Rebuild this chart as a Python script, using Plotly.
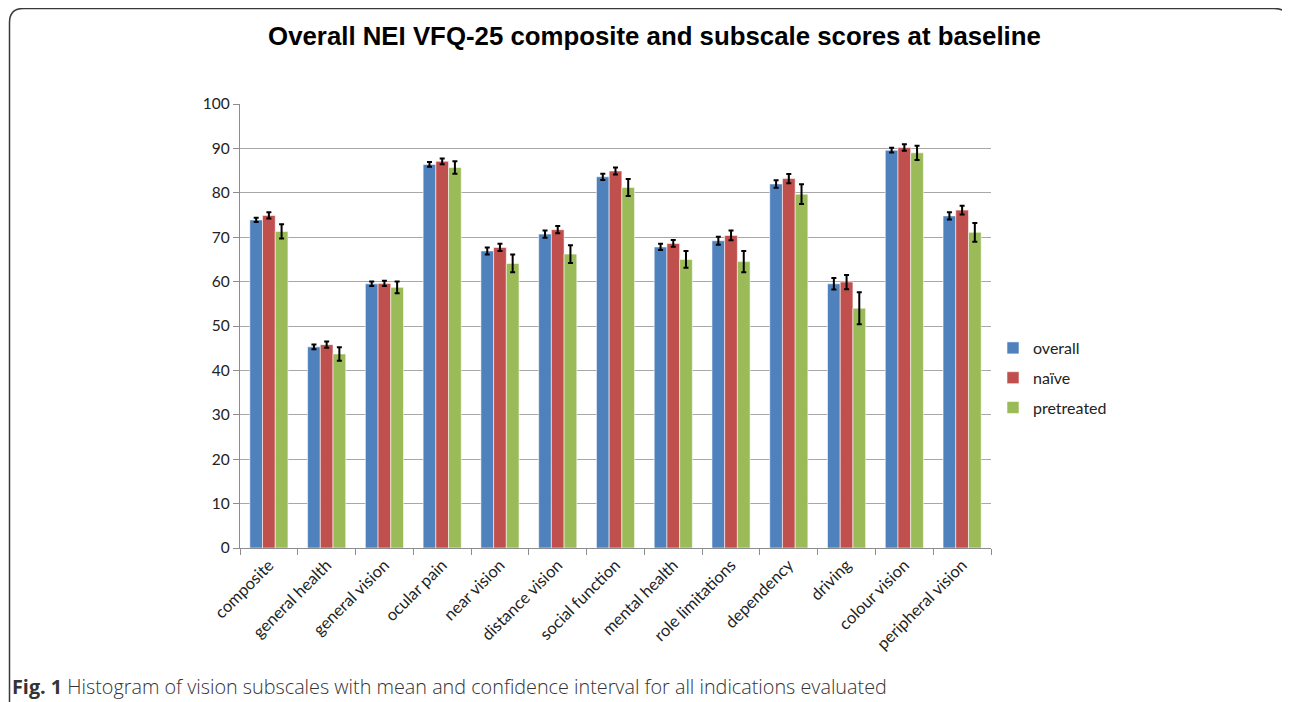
import plotly.graph_objects as go

categories = ["composite", "general health", "general vision", "ocular pain", "near vision",
              "distance vision", "social function", "mental health", "role limitations",
              "dependency", "driving", "colour vision", "peripheral vision"]

overall = [73.9, 45.3, 59.5, 86.4, 66.9, 70.7, 83.6, 67.8, 69.2, 82.0, 59.5, 89.6, 74.8]
overall_ci = [0.5, 0.55, 0.5, 0.55, 0.8, 0.8, 0.7, 0.7, 0.9, 0.85, 1.3, 0.55, 0.8]

naive = [74.9, 45.8, 59.6, 87.1, 67.7, 71.7, 84.9, 68.6, 70.4, 83.2, 59.9, 90.2, 76.1]
naive_ci = [0.7, 0.7, 0.6, 0.65, 0.8, 0.8, 0.8, 0.75, 1.1, 1.05, 1.6, 0.75, 1.0]

pretreated = [71.3, 43.7, 58.7, 85.7, 64.1, 66.2, 81.2, 65.0, 64.5, 79.7, 54.0, 89.0, 71.1]
pretreated_ci = [1.6, 1.5, 1.3, 1.4, 2.0, 2.0, 1.9, 1.9, 2.4, 2.2, 3.6, 1.6, 2.1]

series_names = ["overall", "naïve", "pretreated"]
colors = ["#4F81BD", "#C0504D", "#9BBB59"]

fig = go.Figure()
for name, vals, ci, col in zip(series_names, [overall, naive, pretreated],
                               [overall_ci, naive_ci, pretreated_ci], colors):
    fig.add_trace(go.Bar(
        x=categories, y=vals, name=name, legendgroup=name,
        marker=dict(color=col, line=dict(color="rgba(255,255,255,0.7)", width=0.8)),
        error_y=dict(type="data", array=ci, visible=True, color="black",
                     thickness=2, width=2.5),
    ))

OFF = 8  # page body margin
W, H = 1290 - OFF, 702 - OFF
L, R, T, B = 240 - OFF, 991 - OFF, 104 - OFF, 548 - OFF
pw, ph = R - L, B - T


def px(x):
    return (x - OFF - L) / pw


def py(y):
    return (B - (y - OFF)) / ph


# rounded frame (page pixel coordinates)
x0, y0, x1, y1 = 9.5, 8.5, 1288.5, 712
r = 14
path = (f"M {px(x0)},{py(y1)} L {px(x0)},{py(y0 + r)} "
        f"Q {px(x0)},{py(y0)} {px(x0 + r)},{py(y0)} "
        f"L {px(x1 - r)},{py(y0)} Q {px(x1)},{py(y0)} {px(x1)},{py(y0 + r)} "
        f"L {px(x1)},{py(y1)}")

fig.update_layout(
    width=W, height=H,
    margin=dict(l=L, r=W - R, t=T, b=H - B, autoexpand=False),
    paper_bgcolor="white", plot_bgcolor="white",
    barmode="group", bargap=0.34, bargroupgap=0.0,
    font=dict(family="Lato, 'Open Sans', sans-serif", size=15, color="#222"),
    title=dict(text="<b>Overall NEI VFQ-25 composite and subscale scores at baseline</b>",
               x=(654.5 - OFF) / W, xanchor="center", y=1 - (36 - OFF) / H, yanchor="middle",
               font=dict(family="Liberation Sans, Arial, sans-serif", size=25.8, color="black")),
    xaxis=dict(
        showline=True, linecolor="#8C8C8C", linewidth=1.2,
        ticks="outside", tickson="boundaries", ticklen=6, tickcolor="#8C8C8C",
        tickangle=-45, tickfont=dict(family="Lato, sans-serif", size=16.5, color="#222"),
        showgrid=False,
    ),
    yaxis=dict(
        range=[0, 100], dtick=10, showgrid=True, gridcolor="#A8A8A8", gridwidth=1,
        showline=True, linecolor="#8C8C8C", linewidth=1.2,
        ticks="outside", ticklen=6, tickcolor="#8C8C8C",
        tickfont=dict(family="Lato, sans-serif", size=15.5, color="#222"),
        zeroline=False,
    ),
    legend=dict(
        x=px(993), xanchor="left", y=py(378), yanchor="middle",
        font=dict(family="Lato, sans-serif", size=16, color="#222"),
        tracegroupgap=6, bgcolor="rgba(0,0,0,0)", itemwidth=30,
    ),
    shapes=[dict(type="path", path=path, xref="paper", yref="paper",
                 line=dict(color="#3A3A3A", width=1.5))],
    annotations=[dict(
        text="<b>Fig. 1</b> Histogram of vision subscales with mean and confidence interval for all indications evaluated",
        xref="paper", yref="paper", x=px(10), y=py(686), xanchor="left", yanchor="middle",
        showarrow=False, font=dict(family="Open Sans, sans-serif", size=19.8, color="#333", weight=300),
    )],
)

fig.write_html("out.html")
